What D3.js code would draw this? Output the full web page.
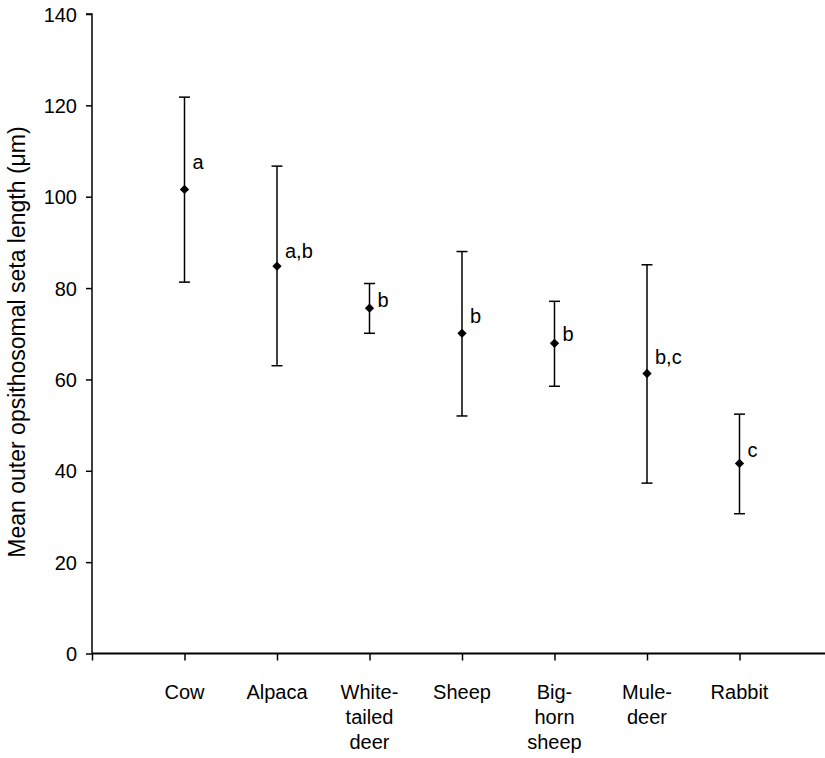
<!DOCTYPE html>
<html><head><meta charset="utf-8">
<script src="https://cdn.jsdelivr.net/npm/d3@7"></script>
<style>body{margin:0;background:#fff}svg{display:block}text{font-family:"Liberation Sans",Arial,sans-serif;fill:#000}</style>
</head><body><svg id="c" width="825" height="758"></svg>
<script>
const categories = [["Cow"],["Alpaca"],["White-","tailed","deer"],["Sheep"],["Big-","horn","sheep"],["Mule-","deer"],["Rabbit"]];
const means = [101.6, 84.8, 75.6, 70.1, 67.9, 61.3, 41.6];
const upper = [121.8, 106.7, 81.0, 88.0, 77.1, 85.1, 52.4];
const lower = [81.3, 63.0, 70.1, 52.0, 58.5, 37.3, 30.6];
const letters = ["a","a,b","b","b","b","b,c","c"];
const letterAt = [107.5, 88.2, 77.3, 73.8, 69.9, 65.0, 44.6];
const yTicks = [0,20,40,60,80,100,120,140];

const svg = d3.select("#c");
const x0 = 92, yBottom = 653.5, yTop = 14;
const x = d3.scaleLinear().domain([0, 8]).range([x0, x0 + 8*92.5]);
const y = d3.scaleLinear().domain([0, 140]).range([yBottom, yTop]);
const FS = 20;

// y axis
const ya = svg.append("g").attr("transform", `translate(${x0},0)`)
  .call(d3.axisLeft(y).tickValues(yTicks).tickSize(6).tickPadding(9).tickFormat(d3.format("d")));
ya.select(".domain").attr("stroke-width", 1.5).attr("d", `M-6,${y(140)}H0V${y(0)}`);
ya.selectAll(".tick line").attr("stroke-width", 1.5);
ya.selectAll("text").attr("font-size", FS).attr("dy", "0.35em");

// x axis
const xa = svg.append("g").attr("transform", `translate(0,${yBottom})`)
  .call(d3.axisBottom(x).tickValues(d3.range(0, 8)).tickSize(7).tickFormat(""));
xa.select(".domain").attr("stroke-width", 2.2).attr("d", `M${x0},0H825`);
xa.selectAll(".tick line").attr("stroke-width", 1.5);

// category labels
categories.forEach((lines, i) => {
  const t = svg.append("text").attr("x", x(i+1)).attr("y", 699).attr("text-anchor", "middle").attr("font-size", FS);
  lines.forEach((l, j) => t.append("tspan").attr("x", x(i+1)).attr("dy", j === 0 ? 0 : 25).text(l));
});

// y title
svg.append("text").attr("transform", `translate(25,342) rotate(-90)`)
  .attr("text-anchor", "middle").attr("font-size", 23)
  .text("Mean outer opsithosomal seta length (\u03bcm)");

// error bars
const g = svg.append("g");
means.forEach((m, i) => {
  const cx = x(i+1);
  g.append("line").attr("x1", cx).attr("x2", cx).attr("y1", y(upper[i])).attr("y2", y(lower[i])).attr("stroke", "#000").attr("stroke-width", 1.5);
  [upper[i], lower[i]].forEach(v => g.append("line").attr("x1", cx-5.5).attr("x2", cx+5.5).attr("y1", y(v)).attr("y2", y(v)).attr("stroke", "#000").attr("stroke-width", 1.5));
  g.append("path").attr("d", d3.symbol(d3.symbolDiamond2, 55)()).attr("transform", `translate(${cx},${y(m)})`).attr("fill", "#000");
  g.append("text").attr("x", cx + 8).attr("y", y(letterAt[i])).attr("dy", "0.35em").attr("font-size", FS).text(letters[i]);
});
</script></body></html>
